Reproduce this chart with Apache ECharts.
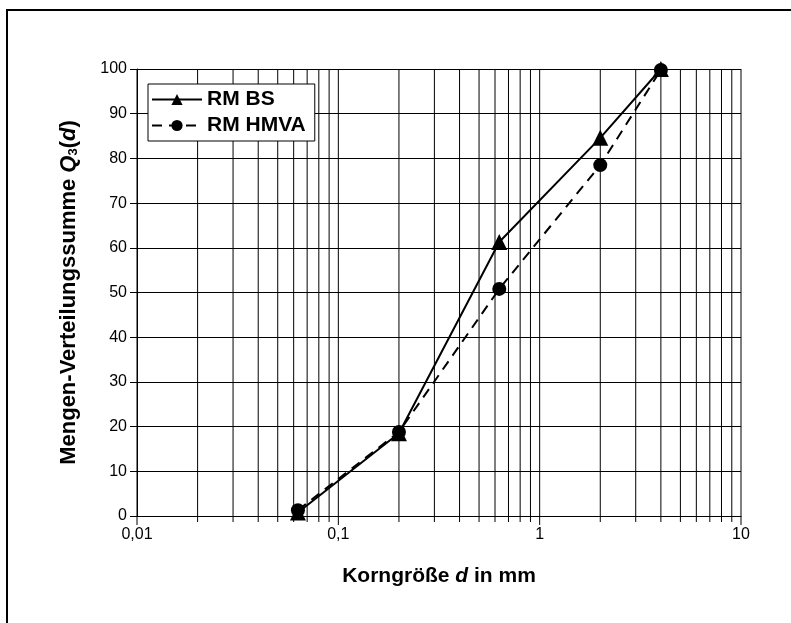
<!DOCTYPE html>
<html>
<head>
<meta charset="utf-8">
<script src="https://cdn.jsdelivr.net/npm/echarts@6/dist/echarts.min.js"></script>
<style>
  html, body { margin: 0; padding: 0; background: #fff; }
  #chart { width: 791px; height: 623px; }
</style>
</head>
<body>
<div id="chart"></div>
<script>
  // Korngrößen (mm) und Summenwerte Q3 (%)
  const grainSizes = [0.063, 0.2, 0.63, 2, 4];
  const rmBS = [0.8, 18.5, 61.3, 84.6, 100];
  const rmHMVA = [1.3, 18.8, 50.8, 78.5, 99.8];
  const majorTicks = [0.01, 0.1, 1, 10];
  const minorTicks = [
    0.02, 0.03, 0.04, 0.05, 0.06, 0.07, 0.08, 0.09,
    0.2, 0.3, 0.4, 0.5, 0.6, 0.7, 0.8, 0.9,
    2, 3, 4, 5, 6, 7, 8, 9
  ];

  const font = '"Liberation Sans", Arial, sans-serif';
  const chart = echarts.init(document.getElementById('chart'));

  // senkrechte Gitterlinien + Teilstriche der log. Achse
  const renderGrid = (params, api) => {
    const v = api.value(0);
    const len = api.value(1);
    const top = api.coord([v, 100]);
    const bottom = api.coord([v, 0]);
    return {
      type: 'line',
      shape: { x1: top[0], y1: top[1], x2: bottom[0], y2: bottom[1] + len },
      style: { stroke: '#000', lineWidth: 1 }
    };
  };

  const gridData = majorTicks.map((v) => [v, 9]).concat(minorTicks.map((v) => [v, 6]));

  const options = {
    animation: false,
    backgroundColor: '#fff',
    textStyle: { fontFamily: font },
    graphic: [
      {
        type: 'rect',
        shape: { x: 7, y: 10, width: 900, height: 900 },
        style: { fill: 'none', stroke: '#000', lineWidth: 2 },
        silent: true
      }
    ],
    grid: { left: 137, right: 50, top: 69, bottom: 107 },
    legend: {
      orient: 'vertical',
      left: 148,
      top: 84,
      padding: [5, 9, 5, 3],
      itemGap: 5,
      itemWidth: 50,
      itemHeight: 14,
      backgroundColor: '#fff',
      borderColor: '#000',
      borderWidth: 1,
      textStyle: { fontFamily: font, fontSize: 21, fontWeight: 'bold', color: '#000', lineHeight: 21 },
      data: ['RM BS', 'RM HMVA']
    },
    xAxis: {
      type: 'log',
      logBase: 10,
      min: 0.01,
      max: 10,
      name: 'Korngröße {i|d} in mm',
      nameLocation: 'middle',
      nameGap: 50,
      nameTextStyle: {
        fontFamily: font, fontSize: 21, fontWeight: 'bold', color: '#000',
        rich: { i: { fontFamily: font, fontSize: 21, fontWeight: 'bold', fontStyle: 'italic', color: '#000' } }
      },
      axisLine: { lineStyle: { color: '#000', width: 1 } },
      axisTick: { show: false },
      splitLine: { show: false },
      axisLabel: {
        color: '#000', fontSize: 16, fontFamily: font, margin: 11,
        formatter: (v) => String(v).replace('.', ',')
      }
    },
    yAxis: {
      type: 'value',
      min: 0,
      max: 100,
      interval: 10,
      name: 'Mengen-Verteilungssumme {q|Q}{s|3}({i|d})',
      nameLocation: 'middle',
      nameGap: 57,
      nameTextStyle: {
        fontFamily: font, fontSize: 22, fontWeight: 'bold', color: '#000',
        rich: {
          q: { fontFamily: font, fontSize: 22, fontWeight: 'bold', fontStyle: 'italic', color: '#000' },
          s: { fontFamily: font, fontSize: 13, fontWeight: 'bold', color: '#000', verticalAlign: 'bottom', padding: [10, 0, 0, 0] },
          i: { fontFamily: font, fontSize: 22, fontWeight: 'bold', fontStyle: 'italic', color: '#000' }
        }
      },
      axisLine: { show: true, lineStyle: { color: '#000', width: 1 } },
      axisTick: { show: true, length: 7, lineStyle: { color: '#000' } },
      splitLine: { show: true, lineStyle: { color: '#000', width: 1 } },
      axisLabel: { color: '#000', fontSize: 16, fontFamily: font, margin: 10 }
    },
    series: [
      {
        name: 'grid',
        type: 'custom',
        renderItem: renderGrid,
        data: gridData,
        silent: true,
        clip: false,
        z: 1
      },
      {
        name: 'RM BS',
        type: 'line',
        data: grainSizes.map((d, i) => [d, rmBS[i]]),
        symbol: 'triangle',
        symbolSize: 16,
        itemStyle: { color: '#000' },
        lineStyle: { color: '#000', width: 2, type: 'solid' },
        z: 3
      },
      {
        name: 'RM HMVA',
        type: 'line',
        data: grainSizes.map((d, i) => [d, rmHMVA[i]]),
        symbol: 'circle',
        symbolSize: 14,
        itemStyle: { color: '#000' },
        lineStyle: { color: '#000', width: 2, type: [10, 7] },
        z: 3
      }
    ]
  };

  chart.setOption(options);
</script>
</body>
</html>
